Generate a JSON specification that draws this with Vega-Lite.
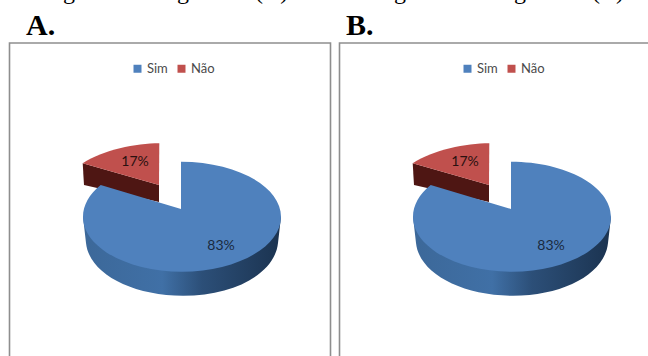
{
  "$schema": "https://vega.github.io/schema/vega-lite/v6.json",
  "width": 648,
  "height": 356,
  "padding": 0,
  "autosize": {"type": "none"},
  "background": "white",
  "config": {"view": {"stroke": null}, "point": {"opacity": 1, "size": 4}},
  "data": {
    "values": [
      {"panel": "A.", "slice": "Sim", "share": 0.83},
      {"panel": "A.", "slice": "Não", "share": 0.17},
      {"panel": "B.", "slice": "Sim", "share": 0.83},
      {"panel": "B.", "slice": "Não", "share": 0.17}
    ]
  },
  "encoding": {
    "x": {
      "field": "panel",
      "type": "nominal",
      "axis": null,
      "scale": {"type": "point", "padding": 0, "domain": ["A.", "B."], "range": [181, 511]}
    }
  },
  "resolve": {"scale": {"color": "independent"}},
  "layer": [
    {
      "transform": [{"filter": "datum.panel === 'A.'"}],
      "layer": [
        {
          "transform": [{"filter": "datum.slice === 'Sim'"}],
          "mark": {"type": "point", "filled": false, "size": 4, "opacity": 1, "stroke": "#8e8e8e", "strokeWidth": 1.6,
            "shape": "M-171.5,190 L-171.5,-135 L149.5,-135 L149.5,190"}
        },
        {
          "transform": [{"filter": "datum.slice === 'Sim'"}],
          "mark": {"type": "text", "text": "g\u00a0\u00a0\u00a0\u00a0\u00a0\u00a0\u00a0\u00a0\u00a0\u00a0\u00a0\u00a0\u00a0\u00a0\u00a0\u00a0\u00a0g\u00a0\u00a0\u00a0\u00a0\u00a0\u00a0\u00a0\u00a0\u00a0\u00a0\u00a0(A)", "font": "Liberation Serif", "fontSize": 24, "color": "#000000", "align": "left", "baseline": "alphabetic", "dx": -118, "dy": -179}
        },
        {
          "transform": [{"filter": "datum.slice === 'Sim'"}],
          "mark": {"type": "text", "font": "Liberation Serif", "fontWeight": "bold", "fontSize": 30, "color": "#000000", "align": "left", "baseline": "alphabetic", "dx": -155, "dy": -143},
          "encoding": {"text": {"field": "panel"}}
        },
        {
          "transform": [{"filter": "datum.slice === 'Não'"}],
          "mark": {"type": "point", "filled": true, "size": 4, "opacity": 1, "fill": "#4e1613",
            "shape": "M-98.3,-14.7 L-97,7 L-22,24 L-22,7 Z"}
        },
        {
          "transform": [{"filter": "datum.slice === 'Não'"}],
          "mark": {"type": "point", "filled": true, "size": 4, "opacity": 1,
            "shape": "M-22,7 L-21.7,-34.7 C-45,-34.7 -78,-28 -98.3,-14.7 Z"},
          "encoding": {
            "color": {
              "field": "slice", "type": "nominal",
              "scale": {"domain": ["Sim", "Não"], "range": ["#4f81bd", "#c0504d"]},
              "legend": {"orient": "none", "legendX": 131, "legendY": 62, "direction": "horizontal", "title": null, "symbolType": "square", "symbolSize": 64, "symbolOpacity": 1, "symbolStrokeWidth": 0, "labelFont": "Lato", "labelFontSize": 13, "labelColor": "#4a4a4a", "labelOffset": 3, "columnPadding": 7}
            }
          }
        },
        {
          "transform": [{"filter": "datum.slice === 'Sim'"}],
          "mark": {"type": "point", "filled": true, "size": 4, "opacity": 1,
            "fill": {"gradient": "linear", "x1": 0, "y1": 0, "x2": 1, "y2": 0, "stops": [
              {"offset": 0, "color": "#3c6899"},
              {"offset": 0.4, "color": "#4070a6"},
              {"offset": 0.6, "color": "#2c4f78"},
              {"offset": 1, "color": "#1b3350"}
            ]},
            "shape": "M-98,38.7 L-95,65 C-92,95 -50,117.7 2,117.7 C54,117.7 94,95 97,65 L100,38.7 Z"}
        },
        {
          "transform": [{"filter": "datum.slice === 'Sim'"}],
          "mark": {"type": "point", "filled": true, "size": 4, "opacity": 1,
            "shape": "M0,31 L0,-16.3 C55,-16.3 100,8.3 100,38.7 C100,69.1 55,93.7 1,93.7 C-53.7,93.7 -98,69.1 -98,38.7 C-98,27.5 -91.8,16.2 -80.3,7 Z"},
          "encoding": {"color": {"field": "slice", "type": "nominal"}}
        },
        {
          "transform": [{"filter": "datum.slice === 'Sim'"}],
          "mark": {"type": "text", "font": "Lato", "fontSize": 14, "color": "#1a2a40", "dx": 40, "dy": 68},
          "encoding": {"text": {"field": "share", "type": "quantitative", "format": ".0%"}}
        },
        {
          "transform": [{"filter": "datum.slice === 'Não'"}],
          "mark": {"type": "text", "font": "Lato", "fontSize": 14, "color": "#2a1010", "dx": -46, "dy": -16},
          "encoding": {"text": {"field": "share", "type": "quantitative", "format": ".0%"}}
        }
      ]
    },
    {
      "transform": [{"filter": "datum.panel === 'B.'"}],
      "layer": [
        {
          "transform": [{"filter": "datum.slice === 'Sim'"}],
          "mark": {"type": "point", "filled": false, "size": 4, "opacity": 1, "stroke": "#8e8e8e", "strokeWidth": 1.6,
            "shape": "M-171.5,190 L-171.5,-135 L149.5,-135 L149.5,190"}
        },
        {
          "transform": [{"filter": "datum.slice === 'Sim'"}],
          "mark": {"type": "text", "text": "g\u00a0\u00a0\u00a0\u00a0\u00a0\u00a0\u00a0\u00a0\u00a0\u00a0\u00a0\u00a0\u00a0\u00a0\u00a0\u00a0\u00a0\u00a0g\u00a0\u00a0\u00a0\u00a0\u00a0\u00a0\u00a0\u00a0\u00a0\u00a0\u00a0(B)", "font": "Liberation Serif", "fontSize": 24, "color": "#000000", "align": "left", "baseline": "alphabetic", "dx": -117, "dy": -179}
        },
        {
          "transform": [{"filter": "datum.slice === 'Sim'"}],
          "mark": {"type": "text", "font": "Liberation Serif", "fontWeight": "bold", "fontSize": 30, "color": "#000000", "align": "left", "baseline": "alphabetic", "dx": -165, "dy": -143},
          "encoding": {"text": {"field": "panel"}}
        },
        {
          "transform": [{"filter": "datum.slice === 'Não'"}],
          "mark": {"type": "point", "filled": true, "size": 4, "opacity": 1, "fill": "#4e1613",
            "shape": "M-98.3,-14.7 L-97,7 L-22,24 L-22,7 Z"}
        },
        {
          "transform": [{"filter": "datum.slice === 'Não'"}],
          "mark": {"type": "point", "filled": true, "size": 4, "opacity": 1,
            "shape": "M-22,7 L-21.7,-34.7 C-45,-34.7 -78,-28 -98.3,-14.7 Z"},
          "encoding": {
            "color": {
              "field": "slice", "type": "nominal",
              "scale": {"domain": ["Sim", "Não"], "range": ["#4f81bd", "#c0504d"]},
              "legend": {"orient": "none", "legendX": 461, "legendY": 62, "direction": "horizontal", "title": null, "symbolType": "square", "symbolSize": 64, "symbolOpacity": 1, "symbolStrokeWidth": 0, "labelFont": "Lato", "labelFontSize": 13, "labelColor": "#4a4a4a", "labelOffset": 3, "columnPadding": 7}
            }
          }
        },
        {
          "transform": [{"filter": "datum.slice === 'Sim'"}],
          "mark": {"type": "point", "filled": true, "size": 4, "opacity": 1,
            "fill": {"gradient": "linear", "x1": 0, "y1": 0, "x2": 1, "y2": 0, "stops": [
              {"offset": 0, "color": "#3c6899"},
              {"offset": 0.4, "color": "#4070a6"},
              {"offset": 0.6, "color": "#2c4f78"},
              {"offset": 1, "color": "#1b3350"}
            ]},
            "shape": "M-98,38.7 L-95,65 C-92,95 -50,117.7 2,117.7 C54,117.7 94,95 97,65 L100,38.7 Z"}
        },
        {
          "transform": [{"filter": "datum.slice === 'Sim'"}],
          "mark": {"type": "point", "filled": true, "size": 4, "opacity": 1,
            "shape": "M0,31 L0,-16.3 C55,-16.3 100,8.3 100,38.7 C100,69.1 55,93.7 1,93.7 C-53.7,93.7 -98,69.1 -98,38.7 C-98,27.5 -91.8,16.2 -80.3,7 Z"},
          "encoding": {"color": {"field": "slice", "type": "nominal"}}
        },
        {
          "transform": [{"filter": "datum.slice === 'Sim'"}],
          "mark": {"type": "text", "font": "Lato", "fontSize": 14, "color": "#1a2a40", "dx": 40, "dy": 68},
          "encoding": {"text": {"field": "share", "type": "quantitative", "format": ".0%"}}
        },
        {
          "transform": [{"filter": "datum.slice === 'Não'"}],
          "mark": {"type": "text", "font": "Lato", "fontSize": 14, "color": "#2a1010", "dx": -46, "dy": -16},
          "encoding": {"text": {"field": "share", "type": "quantitative", "format": ".0%"}}
        }
      ]
    }
  ]
}
